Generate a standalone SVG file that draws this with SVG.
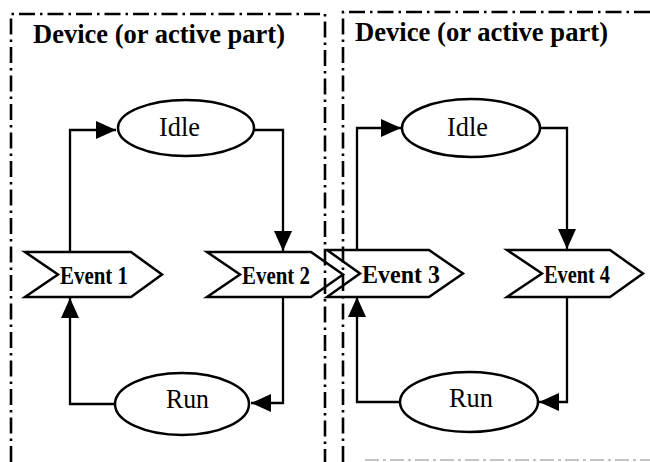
<svg xmlns="http://www.w3.org/2000/svg" width="650" height="462" viewBox="0 0 650 462">
  <style>
    .frame { fill: none; stroke: #000; stroke-width: 2.6; stroke-dasharray: 16 5 2.5 5; }
    .shape { fill: none; stroke: #000; stroke-width: 2.5; }
    .link { fill: none; stroke: #000; stroke-width: 2.3; }
    .title { font-family: "Liberation Serif", "Times New Roman", serif; font-weight: bold; font-size: 27px; fill: #000; }
    .state { font-family: "Liberation Serif", "Times New Roman", serif; font-size: 28px; fill: #000; }
    .event { font-family: "Liberation Serif", "Times New Roman", serif; font-weight: bold; font-size: 25px; fill: #000; }
  </style>
  <defs>
    <marker id="arrow" markerUnits="userSpaceOnUse" markerWidth="20" markerHeight="18" refX="20" refY="9" orient="auto">
      <path d="M0,0 L20,9 L0,18 Z" fill="#000"/>
    </marker>
  </defs>
  <rect width="650" height="462" fill="#fff"/>

  <!-- connectors -->
  <g id="connectors">
    <path class="link" d="M70,252 V130 H116" marker-end="url(#arrow)"/>
    <path class="link" d="M255,130 H283 V251" marker-end="url(#arrow)"/>
    <path class="link" d="M283,297 V403 H251" marker-end="url(#arrow)"/>
    <path class="link" d="M115,404 H70 V298" marker-end="url(#arrow)"/>
    <path class="link" d="M357,250 V128 H401" marker-end="url(#arrow)"/>
    <path class="link" d="M540,128 H567 V249" marker-end="url(#arrow)"/>
    <path class="link" d="M567,297 V402 H539" marker-end="url(#arrow)"/>
    <path class="link" d="M400,402 H357 V297" marker-end="url(#arrow)"/>
  </g>

  <!-- left device -->
  <g id="idle-1">
    <ellipse class="shape" cx="186" cy="128" rx="68" ry="28"/>
    <text class="state" x="159" y="136" textLength="41" lengthAdjust="spacingAndGlyphs">Idle</text>
  </g>
  <g id="run-1">
    <ellipse class="shape" cx="182" cy="404" rx="67" ry="31"/>
    <text class="state" x="166" y="408" textLength="43" lengthAdjust="spacingAndGlyphs">Run</text>
  </g>
  <g id="event-1">
    <polygon class="shape" points="25,252 131,252 162,274.5 131,297 25,297 58,274.5"/>
    <text class="event" x="60" y="284" textLength="68" lengthAdjust="spacingAndGlyphs">Event 1</text>
  </g>
  <g id="event-2">
    <polygon class="shape" points="207,252 311,252 343,274.5 311,297 207,297 240,274.5"/>
    <text class="event" x="242" y="284" textLength="68" lengthAdjust="spacingAndGlyphs">Event 2</text>
  </g>

  <!-- right device -->
  <g id="idle-2">
    <ellipse class="shape" cx="471" cy="128" rx="69" ry="29"/>
    <text class="state" x="447" y="136" textLength="41" lengthAdjust="spacingAndGlyphs">Idle</text>
  </g>
  <g id="run-2">
    <ellipse class="shape" cx="469" cy="402" rx="69" ry="30"/>
    <text class="state" x="449" y="407" textLength="44" lengthAdjust="spacingAndGlyphs">Run</text>
  </g>
  <g id="event-3">
    <polygon class="shape" points="327,250 429,250 463,273.5 429,297 327,297 360,273.5"/>
    <text class="event" x="362" y="283" textLength="78" lengthAdjust="spacingAndGlyphs">Event 3</text>
  </g>
  <g id="event-4">
    <polygon class="shape" points="507,250 610,250 643,273.5 610,297 507,297 542,273.5"/>
    <text class="event" x="544" y="283" textLength="66" lengthAdjust="spacingAndGlyphs">Event 4</text>
  </g>

  <!-- device boundaries -->
  <g id="device-left">
    <path class="frame" d="M11,462 V14 H325 V462"/>
    <text class="title" x="33" y="43" textLength="252" lengthAdjust="spacingAndGlyphs">Device (or active part)</text>
  </g>
  <g id="device-right">
    <path class="frame" d="M343,462 V12 H650"/>
    <path d="M365,460 H650" fill="none" stroke="#c4c4c4" stroke-width="2" stroke-dasharray="14 4 3 4"/>
    <text class="title" x="355" y="41" textLength="253" lengthAdjust="spacingAndGlyphs">Device (or active part)</text>
  </g>
</svg>
